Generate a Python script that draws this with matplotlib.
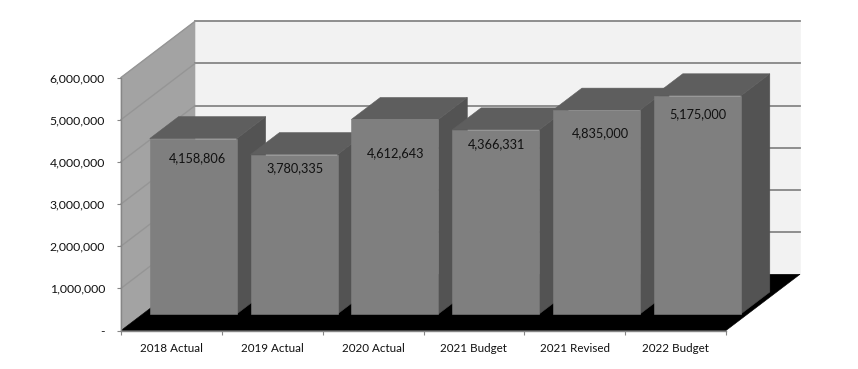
import matplotlib
matplotlib.use('Agg')
import matplotlib.pyplot as plt
from matplotlib.patches import Polygon
from matplotlib.ticker import FuncFormatter

plt.rcParams['font.family'] = ['Lato', 'DejaVu Sans']

categories = ['2018 Actual', '2019 Actual', '2020 Actual', '2021 Budget', '2021 Revised', '2022 Budget']
values = [4158806, 3780335, 4612643, 4366331, 4835000, 5175000]
y_ticks = [0, 1000000, 2000000, 3000000, 4000000, 5000000, 6000000]

# how far each label sits from the top front edge of its bar (points)
label_dx = [3, 0.7, 0.7, 0.7, 3, 0]
label_dy = [-14, -9.5, -24.5, -10, -17, -13]

# 3d look: full chart depth in data units
depth_x = 0.734
depth_y = 1333000
bar_width = 0.863
bar_d0 = 0.295
bar_d1 = 0.685

wall_col = '#f2f2f2'
side_wall_col = '#a3a3a3'
grid_col = '#868686'
front_col = '#7f7f7f'
top_col = '#5e5e5e'
side_col = '#535353'


def pt(x, y, d):
    return (x + d * depth_x, y + d * depth_y)


def poly(ax, pts, col, z):
    # thin edge in the same colour so the floor does not show through the seams
    ax.add_patch(Polygon(pts, closed=True, fc=col, ec=col, lw=0.4, clip_on=False, zorder=z))


fig = plt.figure(figsize=(8.58, 3.69), dpi=100)
ax = fig.add_axes([121 / 858, (369 - 330.5) / 369, 605 / 858, 253 / 369])
n = len(categories)
top = y_ticks[-1]
ax.set_xlim(0, n)
ax.set_ylim(0, top)

# back wall, side wall, floor
poly(ax, [pt(0, 0, 1), pt(n, 0, 1), pt(n, top, 1), pt(0, top, 1)], wall_col, 1)
poly(ax, [pt(0, 0, 0), pt(0, 0, 1), pt(0, top, 1), pt(0, top, 0)], side_wall_col, 1)
poly(ax, [pt(0, 0, 0), pt(n, 0, 0), pt(n, 0, 1), pt(0, 0, 1)], 'black', 2)

for t in y_ticks[1:]:
    xs, ys = zip(pt(0, t, 1), pt(n, t, 1))
    ax.plot(xs, ys, color=grid_col, lw=1.3, clip_on=False, zorder=1.5)
    xs, ys = zip(pt(0, t, 0), pt(0, t, 1))
    ax.plot(xs, ys, color='#959595', lw=1.0, clip_on=False, zorder=1.5)

# bars, painted left to right so each one covers its neighbour
for i, v in enumerate(values):
    x0 = i + 0.5 - bar_width / 2
    x1 = i + 0.5 + bar_width / 2
    z = 3 + i
    poly(ax, [pt(x1, 0, bar_d0), pt(x1, 0, bar_d1), pt(x1, v, bar_d1), pt(x1, v, bar_d0)], side_col, z)
    poly(ax, [pt(x0, v, bar_d0), pt(x1, v, bar_d0), pt(x1, v, bar_d1), pt(x0, v, bar_d1)], top_col, z)
    poly(ax, [pt(x0, 0, bar_d0), pt(x1, 0, bar_d0), pt(x1, v, bar_d0), pt(x0, v, bar_d0)], front_col, z)
    ax.annotate(f'{v:,}', pt(i + 0.5, v, bar_d0), xytext=(label_dx[i], label_dy[i]),
                textcoords='offset points', ha='center', va='center',
                fontsize=9.2, color='#111111', zorder=20)

ax.set_yticks(y_ticks)
ax.yaxis.set_major_formatter(FuncFormatter(lambda v, p: f'{int(v):,}' if v else '-'))
ax.set_xticks(range(n + 1))
ax.set_xticklabels([])
ax.set_xticks([i + 0.5 for i in range(n)], categories, minor=True)
ax.tick_params(axis='x', which='minor', length=0, pad=9, labelsize=8.4, labelcolor='#111111')
ax.tick_params(axis='x', which='major', length=3, color=grid_col)
ax.tick_params(axis='y', length=3, color=grid_col, labelsize=8.8, labelcolor='#111111', pad=8.5)

ax.set_facecolor('none')
for s in ['top', 'right']:
    ax.spines[s].set_visible(False)
for s in ['left', 'bottom']:
    ax.spines[s].set_color(grid_col)
    ax.spines[s].set_linewidth(1.0)
    ax.spines[s].set_zorder(2.5)

fig.savefig('out.png', dpi=100)
